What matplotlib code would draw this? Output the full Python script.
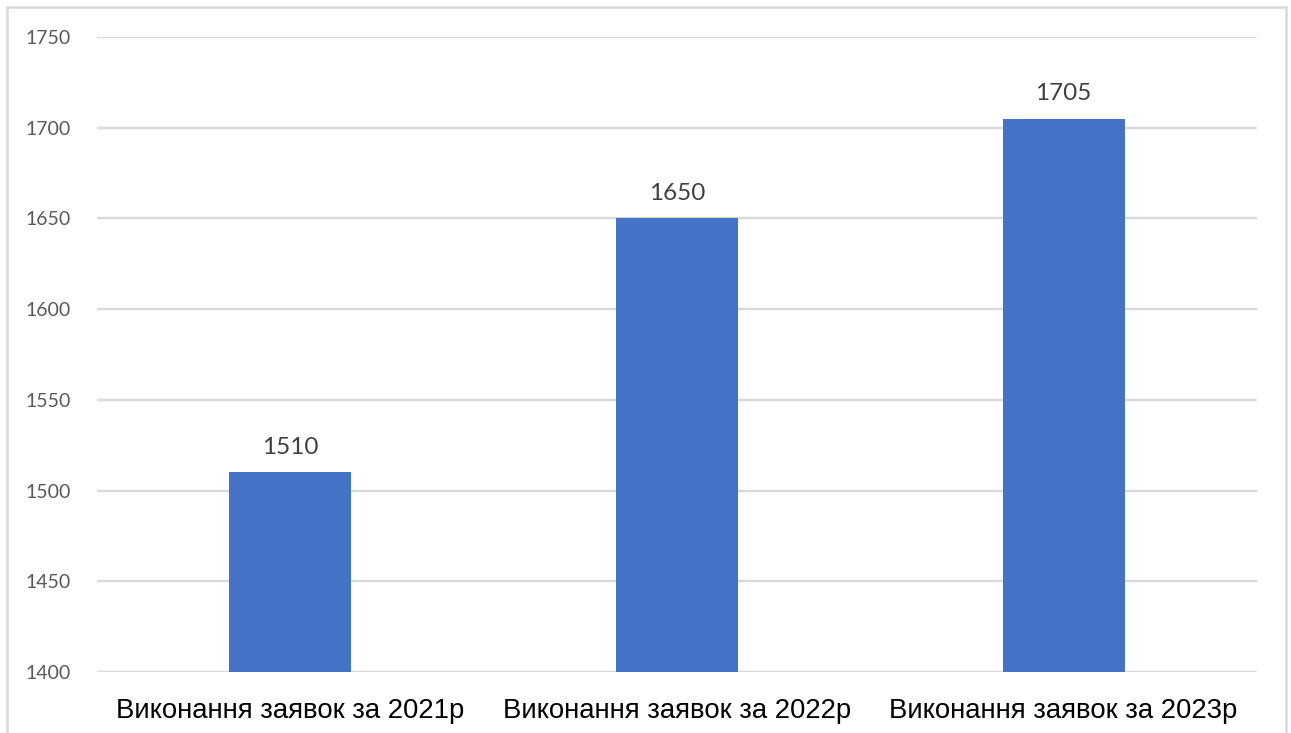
import matplotlib.pyplot as plt
from matplotlib.patches import Rectangle

categories = ["Виконання заявок за 2021р", "Виконання заявок за 2022р", "Виконання заявок за 2023р"]
values = [1510, 1650, 1705]
y_ticks = [1400, 1450, 1500, 1550, 1600, 1650, 1700, 1750]

W, H = 1291, 733
fig = plt.figure(figsize=(W / 100, H / 100), dpi=100)
ax = fig.add_axes([97 / W, 1 - 672 / H, (1257 - 97) / W, (672 - 37) / H])

# outer chart frame (bottom edge runs off the image)
fig.patches.append(Rectangle((7 / W, -0.05), (1286 - 7) / W, 1.05 - 7 / H,
                             transform=fig.transFigure, fill=False,
                             edgecolor="#d9d9d9", linewidth=1.8))

x = range(len(categories))
bars = ax.bar(x, values, width=0.316, color="#4472c4", zorder=3)

ax.set_ylim(1400, 1750)
ax.set_xlim(-0.5, len(categories) - 0.5)
ax.set_yticks(y_ticks)
ax.set_yticklabels([str(t) for t in y_ticks], fontfamily="Lato", fontsize=14, color="#595959")
ax.set_xticks(list(x))
ax.set_xticklabels(categories, fontfamily="Liberation Sans", fontsize=19.8, color="black")
ax.tick_params(axis="y", length=0, pad=19)
ax.tick_params(axis="x", length=0, pad=18.5)

ax.yaxis.grid(True, color="#d9d9d9", linewidth=1.7, zorder=0)
ax.set_axisbelow(True)
for s in ax.spines.values():
    s.set_visible(False)

for b, v in zip(bars, values):
    ax.annotate(str(v), (b.get_x() + b.get_width() / 2, v), xytext=(0, 10.5),
                textcoords="offset points", ha="center", va="bottom",
                fontfamily="Lato", fontsize=17.5, color="#404040")

fig.savefig("out.png", dpi=100)
